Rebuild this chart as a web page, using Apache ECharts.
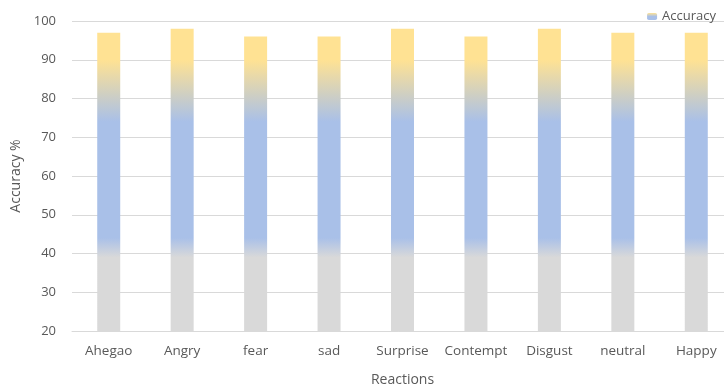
<!DOCTYPE html>
<html>
<head>
<meta charset="utf-8">
<script src="https://cdn.jsdelivr.net/npm/echarts@6/dist/echarts.min.js"></script>
<style>
  html, body { margin: 0; padding: 0; background: #fff; }
  #chart { width: 724px; height: 387px; }
</style>
</head>
<body>
<div id="chart"></div>
<script>
// Recognition accuracy per facial reaction
const categories = ['Ahegao', 'Angry', 'fear', 'sad', 'Surprise', 'Contempt', 'Disgust', 'neutral', 'Happy'];
const accuracy = [97, 98, 96, 96, 98, 96, 98, 97, 97];
const yTicks = { min: 20, max: 100, interval: 10 };

const GRAY = '#d9d9d9', BLUE = '#a9c0e8', YELLOW = '#ffe293';
// colour bands along the value axis: gray low, blue middle, yellow top
const bandStops = [
  { v: 39, c: GRAY },
  { v: 44, c: BLUE },
  { v: 74, c: BLUE },
  { v: 90, c: YELLOW }
];

function barGradient(value) {
  const span = value - yTicks.min;
  const stops = bandStops.map(s => ({
    offset: Math.min(1, Math.max(0, (value - s.v) / span)),
    color: s.c
  }));
  stops.sort((a, b) => a.offset - b.offset);
  return new echarts.graphic.LinearGradient(0, 0, 0, 1, stops);
}

const chart = echarts.init(document.getElementById('chart'));
const font = '"Open Sans", "Noto Sans", sans-serif';
chart.setOption({
  animation: false,
  textStyle: { fontFamily: font },
  grid: { left: 72, right: -9, top: 21, bottom: 56, containLabel: false, outerBoundsMode: 'none' },
  legend: {
    right: 3, top: 5,
    itemWidth: 10, itemHeight: 7, itemGap: 4,
    textStyle: { color: '#595959', fontSize: 13, fontFamily: font },
    data: ['Accuracy']
  },
  xAxis: {
    type: 'category',
    data: categories,
    name: 'Reactions',
    nameLocation: 'middle',
    nameGap: 42,
    nameTextStyle: { color: '#595959', fontSize: 14, fontFamily: font },
    axisLine: { lineStyle: { color: '#d9d9d9', width: 1 } },
    axisTick: { show: false },
    axisLabel: { color: '#595959', fontSize: 13.5, margin: 13, interval: 0, fontFamily: font }
  },
  yAxis: {
    type: 'value',
    min: yTicks.min, max: yTicks.max, interval: yTicks.interval,
    name: 'Accuracy %',
    nameLocation: 'middle',
    nameGap: 46,
    nameRotate: 90,
    nameTextStyle: { color: '#595959', fontSize: 14, fontFamily: font },
    axisLine: { show: false },
    axisTick: { show: false },
    axisLabel: { color: '#595959', fontSize: 13, margin: 16, fontFamily: font },
    splitLine: { lineStyle: { color: '#d9d9d9', width: 1 } }
  },
  series: [{
    name: 'Accuracy',
    type: 'bar',
    barWidth: 23,
    itemStyle: {
      color: new echarts.graphic.LinearGradient(0, 0, 0, 1, [
        { offset: 0, color: YELLOW }, { offset: 0.5, color: BLUE }, { offset: 1, color: BLUE }
      ])
    },
    data: accuracy.map(v => ({ value: v, itemStyle: { color: barGradient(v) } }))
  }]
});
</script>
</body>
</html>
